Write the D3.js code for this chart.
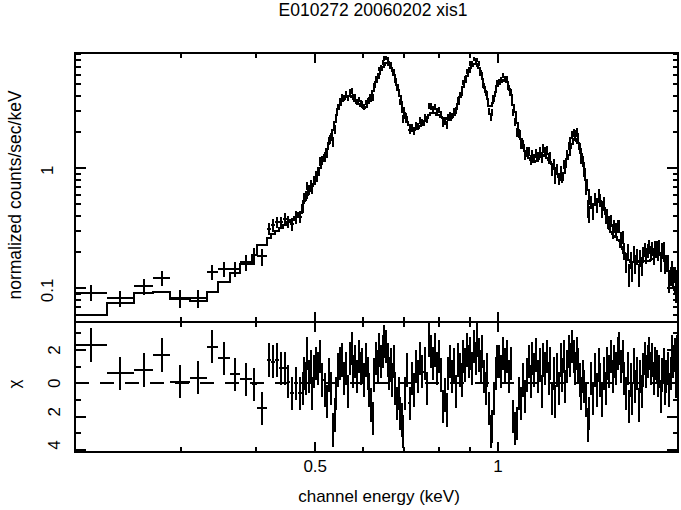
<!DOCTYPE html>
<html><head><meta charset="utf-8">
<script src="https://cdn.jsdelivr.net/npm/d3@7/dist/d3.min.js"></script>
<style>
body{margin:0;background:#fff;}
svg text{font-family:"Liberation Sans",Arial,Helvetica,sans-serif;fill:#000;}
</style></head><body>
<svg id="c" width="681" height="510"></svg>
<script>
// ---- data (energies in keV) ----
const title = "E010272 20060202 xis1";
const xLabel = "channel energy (keV)";
const yLabelTop = "normalized counts/sec/keV";
const yLabelRes = "\u03c7";

// bin edges (keV)
const binEdges = [
  0.201,0.2266,0.2513,0.2704,0.2881,0.3109,0.3312,0.3461,0.3618,0.3758,0.3928,0.4004,
  0.416,0.4225,0.429,0.4355,0.442,0.4485,0.455,0.4615,0.468,0.475,0.478,0.481,0.484,0.487,0.490,0.493,0.496,
  0.500,0.504,0.508,0.512,0.516,0.520,0.524,0.528,0.532,0.536,0.540,0.544,0.548,0.552,0.556,0.560,0.564,0.568,0.572,0.576,0.580,0.584,0.588,0.592,0.596,
  0.600,0.604,0.608,0.612,0.616,0.620,0.624,0.628,0.632,0.636,0.640,0.644,0.648,0.652,0.656,0.660,0.664,0.668,0.672,0.676,0.680,0.684,0.688,0.692,0.696,
  0.700,0.706,0.712,0.718,0.724,0.730,0.736,0.742,0.748,0.754,0.760,0.766,0.772,0.778,0.784,0.790,0.796,0.802,0.808,0.814,0.820,0.826,0.832,0.838,0.844,
  0.850,0.856,0.862,0.868,0.874,0.880,0.886,0.892,0.898,0.904,0.910,0.916,0.922,0.928,0.934,0.940,0.946,0.952,0.958,0.964,0.970,0.976,0.982,0.988,0.994,
  1.000,1.008,1.016,1.024,1.032,1.040,1.048,1.056,1.064,1.072,1.080,1.088,1.096,1.104,1.112,1.120,1.128,1.136,1.144,1.152,1.160,1.168,1.176,1.184,1.192,
  1.200,1.208,1.216,1.224,1.232,1.240,1.248,1.256,1.264,1.272,1.280,1.288,1.296,1.304,1.312,1.320,1.328,1.336,1.344,1.352,1.360,1.368,1.376,1.384,1.392,
  1.40,1.41,1.42,1.43,1.44,1.45,1.46,1.47,1.48,1.49,1.50,1.51,1.52,1.53,1.54,1.55,1.56,1.57,1.58,1.59,1.60,1.61,1.62,1.63,1.64,1.65,1.66,1.67,1.68,1.69,
  1.70,1.71,1.72,1.73,1.74,1.75,1.76,1.77,1.78,1.79,1.80,1.81,1.82,1.83,1.84,1.85,1.86,1.87,1.88,1.89,1.90,1.91,1.92,1.93,1.94,1.95,1.96,1.97,1.98
];

// folded model (normalized counts/sec/keV) per bin
const modelVals = [
  0.0599,0.0750,0.0919,0.0937,0.0814,0.0777,0.0937,0.1135,0.1334,0.1594,0.1894,0.2295,
  0.263,0.284,0.300,0.318,0.337,0.357,0.371,0.393,0.424,0.495,0.530,0.570,0.605,0.642,0.678,0.708,0.745,
  0.79,0.88,1.00,1.14,1.29,1.46,1.62,1.86,2.10,2.43,2.77,3.10,3.38,3.61,3.78,3.92,3.98,3.98,3.92,3.78,3.64,3.50,3.42,3.30,3.22,
  3.20,3.27,3.50,3.77,4.10,4.40,4.80,5.20,5.68,6.12,6.55,6.95,7.28,7.50,7.50,7.32,6.90,6.62,6.05,5.52,4.98,4.48,4.00,3.58,3.16,
  2.86,2.45,2.28,2.12,2.10,2.12,2.17,2.27,2.30,2.48,2.62,2.80,2.90,2.90,2.87,2.80,2.76,2.70,2.65,2.61,2.59,2.57,2.55,2.66,2.80,
  3.12,3.42,3.90,4.22,4.80,5.25,5.85,6.30,6.85,7.10,7.36,7.40,7.10,6.85,6.05,5.55,4.75,4.35,3.78,3.30,3.28,3.48,3.98,4.30,4.85,
  5.00,5.28,5.40,5.30,5.20,4.55,4.10,3.35,2.95,2.40,2.05,1.76,1.55,1.40,1.31,1.23,1.17,1.14,1.12,1.15,1.19,1.25,1.30,1.29,1.27,
  1.21,1.18,1.12,1.08,1.01,0.96,0.90,0.85,0.82,0.80,0.92,1.02,1.19,1.30,1.48,1.58,1.71,1.76,1.70,1.62,1.44,1.32,1.10,0.98,0.80,
  0.66,0.54,0.50,0.49,0.50,0.52,0.53,0.53,0.52,0.47,0.42,0.35,0.32,0.295,0.283,0.274,0.270,0.255,0.247,0.222,0.212,0.196,0.186,0.176,0.172,0.167,0.166,0.166,0.166,0.167,
  0.168,0.169,0.169,0.169,0.169,0.169,0.169,0.170,0.171,0.174,0.177,0.182,0.186,0.193,0.197,0.195,0.190,0.178,0.170,0.152,0.140,0.124,0.115,0.107,0.103,0.097,0.093,0.089
];

// residuals (chi) per bin
const chiVals = [
  2.3,0.6,0.8,1.7,0.1,0.35,2.2,1.5,0.55,0.25,-0.05,-1.5,
  1.4,1.3,1.4,0.9,0.9,0.1,-0.6,0.0,-0.6,-0.3,0.6,0.3,1.8,0.4,1.0,-0.6,0.7,
  1.2,0.9,1.6,0.2,-0.4,-1.1,0.5,-0.3,-2.8,-1.9,-0.6,0.8,1.2,1.4,0.3,0.9,-0.5,1.5,2.1,0.7,1.3,0.4,1.6,0.9,1.1,
  0.2,1.4,0.6,-0.4,-1.3,-2.1,0.5,1.5,1.0,2.0,1.3,1.9,2.5,2.2,1.4,0.6,1.1,0.2,1.3,-0.3,-1.2,-0.6,-1.8,-2.2,-2.9,
  -0.6,0.8,-1.2,0.3,-0.4,1.0,0.4,1.5,0.7,1.2,-0.3,2.6,1.9,1.2,2.0,0.9,1.6,0.5,-1.4,-0.7,-1.6,0.6,1.3,0.4,1.1,
  -0.5,1.4,0.8,0.2,1.6,1.1,2.0,1.3,1.8,0.9,2.2,1.5,2.6,1.7,1.0,1.9,0.4,-0.3,0.8,-1.5,-2.9,-2.6,-0.9,0.6,1.3,
  1.3,0.7,1.8,1.1,1.6,0.4,1.2,-2.0,-2.7,-2.4,-0.6,-1.2,0.2,-0.8,0.5,1.3,0.1,1.5,0.8,1.7,0.4,1.1,-0.5,1.4,0.9,
  1.6,0.3,1.2,-0.9,0.6,-1.1,0.8,-0.3,1.4,0.5,1.6,-0.2,1.0,1.9,1.4,2.2,1.6,0.9,1.8,1.1,0.2,-0.6,0.4,-0.2,-1.0,
  -2.5,-1.8,0.3,-0.9,0.8,-0.4,1.1,0.2,-1.0,0.6,-0.3,1.2,0.7,1.6,0.4,1.3,0.9,1.8,2.1,1.0,1.6,0.3,-0.6,0.9,-1.4,0.2,-0.9,1.1,-0.2,0.6,
  -1.3,0.4,-0.5,0.8,1.5,0.7,1.3,1.8,0.9,1.4,0.3,1.2,1.0,0.2,0.7,-0.8,0.5,1.1,-0.3,0.4,0.9,-0.4,0.6,1.9,1.3,1.7,0.1,1.9
];

// 1-sigma error relative to the model, per bin
const relErrVals = [
  0.235,0.17,0.17,0.18,0.17,0.18,0.21,0.18,0.15,0.16,0.16,0.13,
  0.14,0.14,0.13,0.13,0.13,0.12,0.12,0.12,0.11,0.11,0.11,0.10,0.10,0.10,0.095,0.09,0.09,
  0.095,0.09,0.09,0.085,0.085,0.08,0.08,0.075,0.075,0.07,0.07,0.065,0.065,0.065,0.06,0.06,0.06,0.06,0.06,0.06,0.06,0.06,0.06,0.06,0.06,
  0.06,0.06,0.06,0.058,0.056,0.055,0.054,0.052,0.05,0.05,0.05,0.05,0.05,0.05,0.05,0.05,0.05,0.05,0.052,0.052,0.054,0.056,0.058,0.06,0.062,
  0.065,0.068,0.07,0.072,0.072,0.072,0.072,0.072,0.072,0.07,0.07,0.068,0.068,0.068,0.068,0.068,0.068,0.068,0.068,0.068,0.068,0.068,0.068,0.068,0.066,
  0.064,0.06,0.058,0.055,0.053,0.052,0.05,0.05,0.05,0.05,0.05,0.05,0.05,0.05,0.05,0.052,0.055,0.058,0.06,0.062,0.062,0.06,0.058,0.055,0.052,
  0.052,0.052,0.052,0.052,0.053,0.055,0.058,0.06,0.065,0.07,0.075,0.08,0.085,0.09,0.095,0.095,0.1,0.1,0.1,0.1,0.1,0.1,0.1,0.1,0.1,
  0.1,0.105,0.105,0.105,0.11,0.11,0.11,0.115,0.115,0.11,0.105,0.1,0.095,0.095,0.095,0.095,0.095,0.095,0.1,0.1,0.105,0.11,0.115,0.12,0.125,
  0.12,0.125,0.13,0.13,0.13,0.13,0.13,0.13,0.13,0.135,0.14,0.145,0.15,0.15,0.15,0.155,0.155,0.16,0.16,0.16,0.165,0.165,0.17,0.17,0.17,0.17,0.17,0.17,0.17,0.17,
  0.17,0.17,0.17,0.17,0.17,0.17,0.17,0.17,0.17,0.17,0.165,0.165,0.165,0.165,0.165,0.165,0.17,0.17,0.175,0.18,0.185,0.19,0.19,0.195,0.2,0.2,0.21,0.21
];

// axis ticks
const xMajorTicks = [0.5, 1];
const xMinorTicks = [0.3, 0.4, 0.6, 0.7, 0.8, 0.9];
const yTopMajor = [0.1, 1];
const yTopMinor = [0.06,0.07,0.08,0.09,0.2,0.3,0.4,0.5,0.6,0.7,0.8,0.9,2,3,4,5,6,7,8,9];
const yResMajor = [-4, -2, 0, 2];
const yResMinor = [-3, -1, 1, 3];
const xTickLabels = ["0.5", "1"];
const yTopLabels = ["0.1", "1"];
const yResLabels = ["4", "2", "0", "2"];

// ---- layout ----
const L = 75, R = 678, T1 = 53, B1 = 321.5, B2 = 451.7;
const svg = d3.select("#c");
const x = d3.scaleLog().domain([0.201, 1.98]).range([L, R]);
const yTop = d3.scaleLog().domain([0.0529, 9.14]).range([B1, T1]);
const yRes = d3.scaleLinear().domain([-4.1, 3.71]).range([B2, B1]);

const nBins = Math.min(binEdges.length - 1, modelVals.length, chiVals.length, relErrVals.length);
const bins = d3.range(nBins).map(i => {
  const lo = binEdges[i], hi = binEdges[i + 1], m = modelVals[i];
  const err = relErrVals[i] * m;
  return {lo, hi, mid: Math.sqrt(lo * hi), m, chi: chiVals[i], err, d: m + chiVals[i] * err};
});

const defs = svg.append("defs");
defs.append("clipPath").attr("id", "clipTop").append("rect")
  .attr("x", L).attr("y", T1).attr("width", R - L).attr("height", B1 - T1);
defs.append("clipPath").attr("id", "clipRes").append("rect")
  .attr("x", L).attr("y", B1).attr("width", R - L).attr("height", B2 - B1);

const SW = 2;
// ---- upper panel: model histogram + data crosses ----
const gTop = svg.append("g").attr("clip-path", "url(#clipTop)")
  .attr("stroke", "#000").attr("stroke-width", SW).attr("fill", "none")
  .attr("shape-rendering", "crispEdges");
const stepPts = bins.map(b => [b.lo, b.m]).concat([[bins[bins.length - 1].hi, bins[bins.length - 1].m]]);
gTop.append("path")
  .attr("d", d3.line().x(p => x(p[0])).y(p => yTop(p[1])).curve(d3.curveStepAfter)(stepPts));
gTop.selectAll("line.h").data(bins).join("line").attr("class", "h")
  .attr("x1", d => x(d.lo)).attr("x2", d => x(d.hi))
  .attr("y1", d => yTop(d.d)).attr("y2", d => yTop(d.d));
gTop.selectAll("line.v").data(bins).join("line").attr("class", "v")
  .attr("x1", d => x(d.mid)).attr("x2", d => x(d.mid))
  .attr("y1", d => yTop(Math.max(d.d - d.err, 1e-4))).attr("y2", d => yTop(d.d + d.err));

// ---- lower panel: residuals ----
const gRes = svg.append("g").attr("clip-path", "url(#clipRes)")
  .attr("stroke", "#000").attr("stroke-width", SW).attr("fill", "none")
  .attr("shape-rendering", "crispEdges");
gRes.append("line").attr("x1", L).attr("x2", R).attr("y1", yRes(0)).attr("y2", yRes(0))
  .attr("stroke-dasharray", "14,11");
gRes.selectAll("line.h").data(bins).join("line").attr("class", "h")
  .attr("x1", d => x(d.lo)).attr("x2", d => x(d.hi))
  .attr("y1", d => yRes(d.chi)).attr("y2", d => yRes(d.chi));
gRes.selectAll("line.v").data(bins).join("line").attr("class", "v")
  .attr("x1", d => x(d.mid)).attr("x2", d => x(d.mid))
  .attr("y1", d => yRes(d.chi - 1)).attr("y2", d => yRes(d.chi + 1));

// ---- frames and ticks ----
const gAx = svg.append("g").attr("stroke", "#000").attr("stroke-width", SW)
  .attr("fill", "none").attr("shape-rendering", "crispEdges");
function frame(top, bottom, yScale, yMaj, yMin) {
  gAx.append("rect").attr("x", L).attr("y", top).attr("width", R - L).attr("height", bottom - top);
  const ticks = [];
  xMajorTicks.forEach(v => ticks.push([v, 10]));
  xMinorTicks.forEach(v => ticks.push([v, 5]));
  ticks.forEach(([v, len]) => {
    const px = x(v);
    gAx.append("line").attr("x1", px).attr("x2", px).attr("y1", top).attr("y2", top + len);
    gAx.append("line").attr("x1", px).attr("x2", px).attr("y1", bottom).attr("y2", bottom - len);
  });
  const yt = [];
  yMaj.forEach(v => yt.push([v, 11]));
  yMin.forEach(v => yt.push([v, 5.5]));
  yt.forEach(([v, len]) => {
    const py = yScale(v);
    if (py < top - 0.5 || py > bottom + 0.5) return;
    gAx.append("line").attr("x1", L).attr("x2", L + len).attr("y1", py).attr("y2", py);
    gAx.append("line").attr("x1", R).attr("x2", R - len).attr("y1", py).attr("y2", py);
  });
}
frame(T1, B1, yTop, yTopMajor, yTopMinor);
frame(B1, B2, yRes, yResMajor, yResMinor);

// ---- text ----
const FS = 17;
svg.append("text").attr("x", 373).attr("y", 16).attr("text-anchor", "middle")
  .attr("font-size", 17.5).text(title);
xMajorTicks.forEach((v, i) => {
  svg.append("text").attr("x", x(v)).attr("y", 472).attr("text-anchor", "middle")
    .attr("font-size", FS).text(xTickLabels[i]);
});
svg.append("text").attr("x", 379).attr("y", 502).attr("text-anchor", "middle")
  .attr("font-size", FS).text(xLabel);
yTopMajor.forEach((v, i) => {
  svg.append("text").attr("transform", `translate(53,${yTop(v) + 2}) rotate(-90)`)
    .attr("text-anchor", "middle").attr("font-size", FS).text(yTopLabels[i]);
});
yResMajor.forEach((v, i) => {
  const off = v < 0 ? -5 : 0;
  svg.append("text").attr("transform", `translate(60,${yRes(v) + off}) rotate(-90)`)
    .attr("text-anchor", "middle").attr("font-size", FS).text(yResLabels[i]);
});
svg.append("text").attr("transform", "translate(21,195) rotate(-90)")
  .attr("text-anchor", "middle").attr("font-size", 17.5).text(yLabelTop);
svg.append("text").attr("transform", "translate(20,384) rotate(-90)")
  .attr("text-anchor", "middle").attr("font-size", FS).text(yLabelRes);
</script>
</body></html>
